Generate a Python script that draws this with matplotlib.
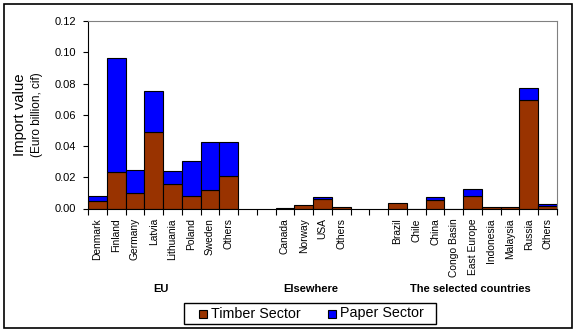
import matplotlib
matplotlib.use("Agg")
import matplotlib.pyplot as plt
from matplotlib.patches import Rectangle

plt.rcParams['font.family'] = ['Liberation Sans', 'DejaVu Sans']

categories = ["Denmark", "Finland", "Germany", "Latvia", "Lithuania", "Poland", "Sweden", "Others",
              "", "",
              "Canada", "Norway", "USA", "Others",
              "", "",
              "Brazil", "Chile", "China", "Congo Basin", "East Europe", "Indonesia", "Malaysia", "Russia", "Others"]
timber = [0.0047, 0.0233, 0.0098, 0.0489, 0.0156, 0.0077, 0.0117, 0.0207,
          0, 0,
          0.0006, 0.0021, 0.0064, 0.0008,
          0, 0,
          0.0034, 0.0, 0.0053, 0.0, 0.0083, 0.0008, 0.0008, 0.0696, 0.0019]
paper = [0.0032, 0.0730, 0.0147, 0.0264, 0.0083, 0.0226, 0.0308, 0.0218,
         0, 0,
         0.0, 0.0, 0.0009, 0.0,
         0, 0,
         0.0, 0.0, 0.0022, 0.0, 0.0043, 0.0, 0.0, 0.0075, 0.0011]
groups = ["EU", "Elsewhere", "The selected countries"]
group_centers = [3.9, 11.9, 20.4]
series_names = ["Timber Sector", "Paper Sector"]
colors = ['#993300', '#0000FF']

W, H = 577, 332
fig = plt.figure(figsize=(W / 100, H / 100), dpi=100)
fig.patches.append(Rectangle((4 / W, 4 / H), 568 / W, 324 / H, transform=fig.transFigure,
                             fill=False, edgecolor='black', linewidth=1.2))
ax = fig.add_axes([88 / W, 1 - 208.5 / H, 469 / W, 187.5 / H])

pos = [i + 0.5 for i in range(len(categories))]
for i, c in enumerate(categories):
    if c == "":
        continue
    ax.bar(pos[i], timber[i], width=1.0, color=colors[0], edgecolor='black', linewidth=0.8)
    if paper[i] > 0:
        ax.bar(pos[i], paper[i], bottom=timber[i], width=1.0, color=colors[1], edgecolor='black', linewidth=0.8)

ax.set_xlim(0, len(categories))
ax.set_ylim(0, 0.12)
ax.set_yticks([0, 0.02, 0.04, 0.06, 0.08, 0.10, 0.12])
ax.set_yticklabels(["0.00", "0.02", "0.04", "0.06", "0.08", "0.10", "0.12"], fontsize=8)
ax.set_xticks(range(len(categories) + 1))
ax.set_xticklabels([])
ax.tick_params(axis='x', which='major', length=4, direction='out', width=0.8)
ax.tick_params(axis='y', length=3.5, direction='out', width=0.8, pad=5)
ax.set_xticks(pos, minor=True)
ax.set_xticklabels(categories, minor=True, rotation=90, fontsize=7.4, va='top')
ax.tick_params(axis='x', which='minor', length=0, pad=7)

for s in ['top', 'right']:
    ax.spines[s].set_color('#808080')
for s in ['left', 'bottom']:
    ax.spines[s].set_color('black')

for g, c in zip(groups, group_centers):
    ax.text(c, -80.5 / 187.5, g, transform=ax.get_xaxis_transform(), ha='center', va='center',
            fontsize=8, fontweight='bold')

fig.text(20 / W, 1 - 115 / H, "Import value", rotation=90, ha='center', va='center', fontsize=10.8)
fig.text(37 / W, 1 - 115 / H, "(Euro billion, cif)", rotation=90, ha='center', va='center', fontsize=8.5)

# legend box (drawn manually to match padding)
fig.patches.append(Rectangle((184 / W, 1 - 323.5 / H), 252 / W, 20.5 / H, transform=fig.transFigure,
                             fill=True, facecolor='white', edgecolor='black', linewidth=1.0))
for x0, name, col in zip([199, 328], series_names, colors):
    fig.patches.append(Rectangle((x0 / W, 1 - 317.5 / H), 8 / W, 8 / H, transform=fig.transFigure,
                                 facecolor=col, edgecolor='black', linewidth=0.8))
    fig.text((x0 + 12) / W, 1 - 313.5 / H, name, ha='left', va='center', fontsize=10.3)

fig.savefig("out.png", dpi=100)
